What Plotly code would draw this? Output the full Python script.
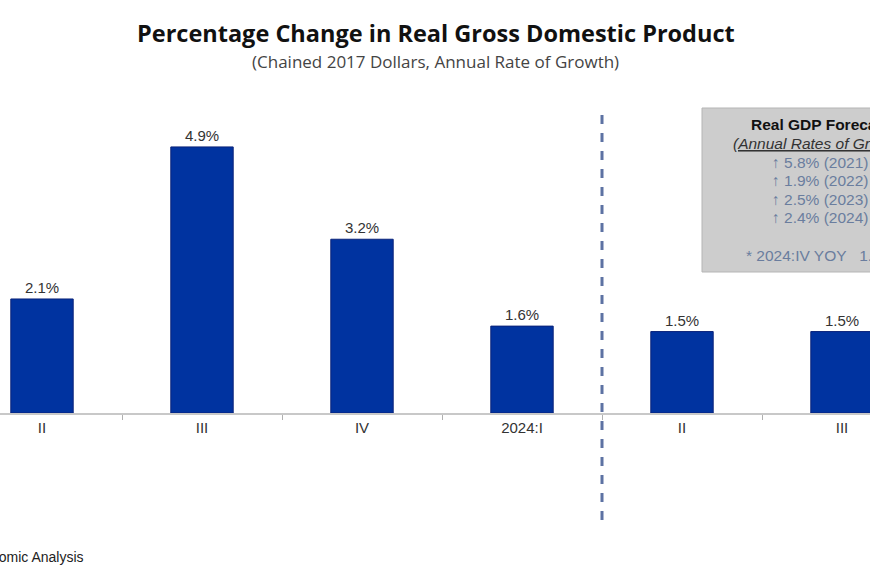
import plotly.graph_objects as go

categories = ["II", "III", "IV", "2024:I", "II", "III"]
values = [2.1, 4.9, 3.2, 1.6, 1.5, 1.5]
value_labels = ["2.1%", "4.9%", "3.2%", "1.6%", "1.5%", "1.5%"]
forecast_lines = ["↑ 5.8% (2021)", "↑ 1.9% (2022)", "↑ 2.5% (2023)", "↑ 2.4% (2024)"]

W, H = 870, 580
x_pos = list(range(len(categories)))
x_range = [-0.2625, 5.175]
plot_top, plot_bottom = 100, 413
y_max = (plot_bottom - plot_top) / 54.3

fig = go.Figure()
fig.add_trace(go.Bar(
    x=x_pos, y=values, width=0.39,
    marker=dict(color="#0033a0", line=dict(color="#0a237a", width=1)),
    text=value_labels, textposition="outside",
    textfont=dict(family="Liberation Sans", size=15, color="#333333"),
    cliponaxis=False, hoverinfo="skip",
))

def px_x(v):
    return (v - x_range[0]) / (x_range[1] - x_range[0])

def py(pix):
    return (plot_bottom - pix) / (plot_bottom - plot_top)

shapes = [
    dict(type="line", xref="paper", yref="paper",
         x0=px_x(3.5), x1=px_x(3.5), y0=py(520), y1=py(112),
         line=dict(color="#5d72a3", width=3, dash="dash")),
    dict(type="rect", xref="paper", yref="paper",
         x0=702 / W, x1=940 / W, y0=py(272), y1=py(108),
         fillcolor="#cdcdcd", line=dict(color="#b5b5b5", width=1), layer="below"),
]

def ann(text, x, y, size, color, family="Liberation Sans", xanchor="center"):
    return dict(text=text, xref="paper", yref="paper", x=x, y=y, showarrow=False,
                xanchor=xanchor, yanchor="middle",
                font=dict(family=family, size=size, color=color))

cx = 820 / W
annotations = [
    ann("<b>Percentage Change in Real Gross Domestic Product</b>", 436 / W, py(33), 23.5, "#111111", "Open Sans"),
    ann("(Chained 2017 Dollars, Annual Rate of Growth)", 435 / W, py(62), 17, "#444444", "Open Sans"),
    ann("<b>Real GDP Forecast</b>", cx, py(124), 15.5, "#111111"),
    ann("<i><u>(Annual Rates of Growth)</u></i>", cx, py(143), 15.5, "#333333"),
    ann("* 2024:IV YOY   1.6%", cx, py(255), 15.5, "#6a7d9e"),
    ann("Source: U.S. Bureau of Economic Analysis", 86 / W, py(557), 14, "#222222", xanchor="right"),
]
for i, t in enumerate(forecast_lines):
    annotations.append(ann(t, cx, py(162 + 18.5 * i), 15.5, "#6a7d9e"))

fig.update_layout(
    width=W, height=H,
    margin=dict(l=0, r=0, t=plot_top, b=H - plot_bottom),
    paper_bgcolor="white", plot_bgcolor="white",
    showlegend=False,
    shapes=shapes, annotations=annotations,
    xaxis=dict(range=x_range, tickmode="array", tickvals=x_pos, ticktext=categories,
               ticks="", showgrid=False, zeroline=False,
               showline=True, linecolor="#c8c8c8", linewidth=2,
               tickfont=dict(family="Liberation Sans", size=15, color="#333333"),
               minor=dict(tickmode="array", tickvals=[0.5, 1.5, 2.5, 3.5, 4.5],
                          ticks="outside", ticklen=5, tickcolor="#b0b0b0", tickwidth=1, showgrid=False)),
    yaxis=dict(range=[0, y_max], visible=False),
    bargap=0.6,
)

fig.write_html("out.html", config={"displayModeBar": False},
               post_script="document.body.style.margin='0';document.body.style.overflow='hidden';")
